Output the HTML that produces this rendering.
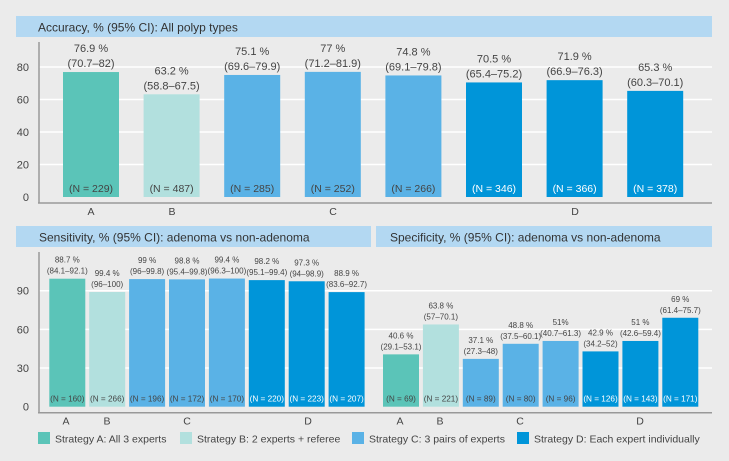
<!DOCTYPE html>
<html><head><meta charset="utf-8"><style>
body{margin:0;background:#ebebeb;}
svg{display:block;font-family:"Liberation Sans",sans-serif;}
</style></head><body>
<svg id="c" width="729" height="461"></svg>
<script>
const colors=["#5bc4b8","#b2e0de","#5ab2e6","#0095d9"];
const strategyOfBar=[0,1,2,2,2,3,3,3];
const accValues=[76.9,63.2,75.1,77,74.8,70.5,71.9,65.3];
const accPct=["76.9 %","63.2 %","75.1 %","77 %","74.8 %","70.5 %","71.9 %","65.3 %"];
const accCI=["(70.7–82)","(58.8–67.5)","(69.6–79.9)","(71.2–81.9)","(69.1–79.8)","(65.4–75.2)","(66.9–76.3)","(60.3–70.1)"];
const accN=[229,487,285,252,266,346,366,378];
const accTicks=[0,20,40,60,80];
const senValues=[99.3,89,99,98.8,99.4,98.2,97.3,88.9];
const senPct=["88.7 %","99.4 %","99 %","98.8 %","99.4 %","98.2 %","97.3 %","88.9 %"];
const senCI=["(84.1–92.1)","(96–100)","(96–99.8)","(95.4–99.8)","(96.3–100)","(95.1–99.4)","(94–98.9)","(83.6–92.7)"];
const senN=[160,266,196,172,170,220,223,207];
const speValues=[40.6,63.8,37.1,48.8,51,42.9,51,69];
const spePct=["40.6 %","63.8 %","37.1 %","48.8 %","51%","42.9 %","51 %","69 %"];
const speCI=["(29.1–53.1)","(57–70.1)","(27.3–48)","(37.5–60.1)","(40.7–61.3)","(34.2–52)","(42.6–59.4)","(61.4–75.7)"];
const speN=[69,221,89,80,96,126,143,171];
const botTicks=[0,30,60,90];
const catLabels=["A","B","C","D"];
const legendLabels=["Strategy A: All 3 experts","Strategy B: 2 experts + referee","Strategy C: 3 pairs of experts","Strategy D: Each expert individually"];

const svg=document.getElementById('c');
const NS="http://www.w3.org/2000/svg";
function mk(tag,attrs,parent){const e=document.createElementNS(NS,tag);for(const k in attrs)e.setAttribute(k,attrs[k]);(parent||svg).appendChild(e);return e;}
function txt(x,y,s,size,fill,anchor,parent){const t=mk('text',{x:x,y:y,'font-size':size,fill:fill,'text-anchor':anchor||'middle'},parent);t.textContent=s;return t;}

function panel(o){
  const g=mk('g',{});
  
  
  const y=v=>o.y0-v*o.scale;
  const tb=mk('rect',{x:o.tx,y:o.ty,width:o.tw,height:o.th,fill:"#b3d8f2"},g);
  
  
  const tt=txt(o.tx+o.tpad,o.ty+o.th-5.5,o.title,o.tsize,"#333","start",g);
  
  
  o.ticks.forEach(t=>{
    if(t>0){const l=mk('line',{x1:o.ax,x2:o.gx2,y1:y(t),y2:y(t),stroke:"#fff","stroke-width":1.5},g);
      }
    if(o.tickLabels){const lb=txt(o.ax-10,y(t)+4,String(t),11,"#444","end",g);
    }
  });
  if(o.drawAxisY){const ay=mk('line',{x1:o.ax,x2:o.ax,y1:o.ayTop,y2:o.axisY,stroke:"#999","stroke-width":1.5},g);
    }
  const axl=mk('line',{x1:o.axx1,x2:o.gx2,y1:o.axisY,y2:o.axisY,stroke:"#999","stroke-width":1.5},g);
  
  o.values.forEach((v,i)=>{
    const x=o.bx0+i*o.pitch, s=strategyOfBar[i];
    const r=mk('rect',{x:x,y:y(v),width:o.bw,height:v*o.scale,fill:colors[s]},g);
    
    
    const cx=x+o.bw/2;
    const a=txt(cx,y(v)-o.lh-5,o.pct[i],o.lsize,"#444","middle",g);
    
    const b=txt(cx,y(v)-5,o.ci[i],o.lsize,"#444","middle",g);
    
    const n=txt(cx,o.y0-o.npad,"(N = "+o.n[i]+")",o.nsize,s===3?"#fff":"#444","middle",g);
    
  });
  o.cats.forEach((c,i)=>{const t=txt(c,o.axisY+o.catdy,catLabels[i],10.5,"#444","middle",g);
    });
}
panel({name:'accuracy-panel',title:'Accuracy, % (95% CI): All polyp types',tx:16,ty:16,tw:696,th:21,tpad:22,tsize:12,
  y0:197,scale:1.625,ax:39,gx2:712,ayTop:42,axisY:203,axx1:38,drawAxisY:true,ticks:accTicks,tickLabels:true,
  values:accValues,pct:accPct,ci:accCI,n:accN,bx0:63,pitch:80.6,bw:56,lh:15,lsize:11,nsize:10.5,npad:5,
  cats:[91,172,333,575],catdy:12});
panel({name:'sensitivity-panel',title:'Sensitivity, % (95% CI): adenoma vs non-adenoma',tx:16,ty:226,tw:355,th:21,tpad:23,tsize:12,
  y0:406.7,scale:1.289,ax:39,gx2:376,ayTop:252,axisY:412.7,axx1:38,drawAxisY:true,ticks:botTicks,tickLabels:true,
  values:senValues,pct:senPct,ci:senCI,n:senN,bx0:49.3,pitch:39.9,bw:36,lh:11,lsize:8,nsize:8.2,npad:5,
  cats:[66,107,187,308],catdy:12});
panel({name:'specificity-panel',title:'Specificity, % (95% CI): adenoma vs non-adenoma',tx:376,ty:226,tw:336,th:21,tpad:14,tsize:12,
  y0:406.7,scale:1.289,ax:376,gx2:712,ayTop:252,axisY:412.7,axx1:376,drawAxisY:false,ticks:botTicks,tickLabels:false,
  values:speValues,pct:spePct,ci:speCI,n:speN,bx0:383,pitch:39.9,bw:36,lh:11,lsize:8,nsize:8.2,npad:5,
  cats:[400,440,520,640],catdy:12});
// legend
const lg=mk('g',{});


const lx=[38,180,352,517];
legendLabels.forEach((s,i)=>{
  const r=mk('rect',{x:lx[i],y:432,width:12,height:12,fill:colors[i]},lg);
  
  const t=txt(lx[i]+17,442.5,s,10.5,"#444","start",lg);
  
});
</script>
</body></html>
